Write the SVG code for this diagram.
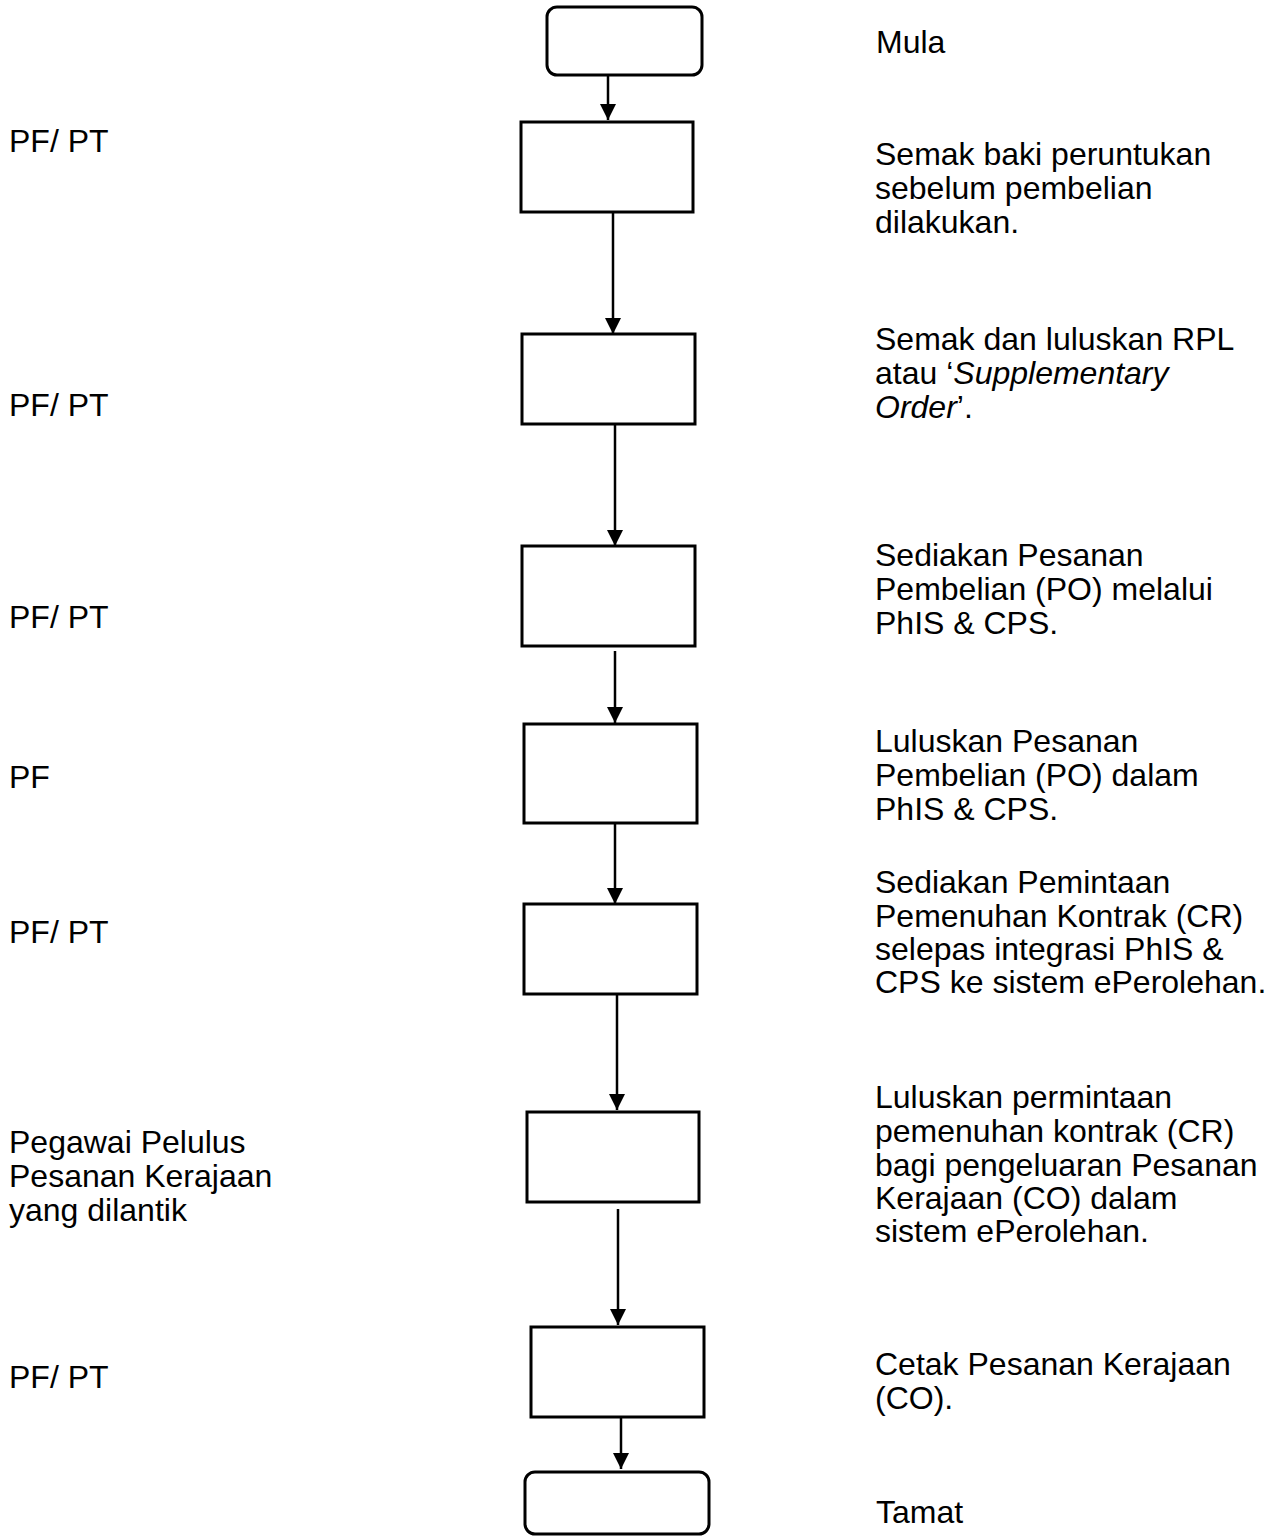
<svg xmlns="http://www.w3.org/2000/svg" width="1275" height="1537" viewBox="0 0 1275 1537">
  <style>
    .box { fill: #ffffff; stroke: #000000; stroke-width: 3; }
    .link { fill: none; stroke: #000000; stroke-width: 2.5; }
    text { font-family: "Liberation Sans", Arial, sans-serif; font-size: 32px; fill: #000000; }
    .it { font-style: italic; }
  </style>
  <defs>
    <marker id="arrow" markerUnits="userSpaceOnUse" markerWidth="18" markerHeight="18" refX="16" refY="8" orient="auto">
      <path d="M0,0 L16,8 L0,16 Z" fill="#000000"/>
    </marker>
  </defs>
  <rect width="1275" height="1537" fill="#ffffff"/>

  <!-- connectors -->
  <g id="connectors">
    <line class="link" x1="608" y1="76" x2="608" y2="120" marker-end="url(#arrow)"/>
    <line class="link" x1="613" y1="212" x2="613" y2="334" marker-end="url(#arrow)"/>
    <line class="link" x1="615" y1="424" x2="615" y2="546" marker-end="url(#arrow)"/>
    <line class="link" x1="615" y1="651" x2="615" y2="723" marker-end="url(#arrow)"/>
    <line class="link" x1="615" y1="823" x2="615" y2="904" marker-end="url(#arrow)"/>
    <line class="link" x1="617" y1="994" x2="617" y2="1110" marker-end="url(#arrow)"/>
    <line class="link" x1="618" y1="1209" x2="618" y2="1325" marker-end="url(#arrow)"/>
    <line class="link" x1="621" y1="1415" x2="621" y2="1469" marker-end="url(#arrow)"/>
  </g>

  <!-- flow nodes -->
  <g id="start">
    <rect class="box" x="547" y="7" width="155" height="68" rx="10"/>
    <text x="876" y="53">Mula</text>
  </g>
  <g id="step1">
    <rect class="box" x="521" y="122" width="172" height="90"/>
    <text x="9" y="152">PF/ PT</text>
    <text x="875" y="165">Semak baki peruntukan</text>
    <text x="875" y="199">sebelum pembelian</text>
    <text x="875" y="233">dilakukan.</text>
  </g>
  <g id="step2">
    <rect class="box" x="522" y="334" width="173" height="90"/>
    <text x="9" y="416">PF/ PT</text>
    <text x="875" y="350">Semak dan luluskan RPL</text>
    <text x="875" y="384">atau ‘<tspan class="it">Supplementary</tspan></text>
    <text x="875" y="418"><tspan class="it">Order</tspan>’.</text>
  </g>
  <g id="step3">
    <rect class="box" x="522" y="546" width="173" height="100"/>
    <text x="9" y="628">PF/ PT</text>
    <text x="875" y="566">Sediakan Pesanan</text>
    <text x="875" y="600">Pembelian (PO) melalui</text>
    <text x="875" y="634">PhIS &amp; CPS.</text>
  </g>
  <g id="step4">
    <rect class="box" x="524" y="724" width="173" height="99"/>
    <text x="9" y="788">PF</text>
    <text x="875" y="752">Luluskan Pesanan</text>
    <text x="875" y="786">Pembelian (PO) dalam</text>
    <text x="875" y="820">PhIS &amp; CPS.</text>
  </g>
  <g id="step5">
    <rect class="box" x="524" y="904" width="173" height="90"/>
    <text x="9" y="943">PF/ PT</text>
    <text x="875" y="893">Sediakan Pemintaan</text>
    <text x="875" y="927">Pemenuhan Kontrak (CR)</text>
    <text x="875" y="960">selepas integrasi PhIS &amp;</text>
    <text x="875" y="993">CPS ke sistem ePerolehan.</text>
  </g>
  <g id="step6">
    <rect class="box" x="527" y="1112" width="172" height="90"/>
    <text x="9" y="1153">Pegawai Pelulus</text>
    <text x="9" y="1187">Pesanan Kerajaan</text>
    <text x="9" y="1221">yang dilantik</text>
    <text x="875" y="1108">Luluskan permintaan</text>
    <text x="875" y="1142">pemenuhan kontrak (CR)</text>
    <text x="875" y="1176">bagi pengeluaran Pesanan</text>
    <text x="875" y="1209">Kerajaan (CO) dalam</text>
    <text x="875" y="1242">sistem ePerolehan.</text>
  </g>
  <g id="step7">
    <rect class="box" x="531" y="1327" width="173" height="90"/>
    <text x="9" y="1388">PF/ PT</text>
    <text x="875" y="1375">Cetak Pesanan Kerajaan</text>
    <text x="875" y="1409">(CO).</text>
  </g>
  <g id="end">
    <rect class="box" x="525" y="1472" width="184" height="62" rx="10"/>
    <text x="876" y="1523">Tamat</text>
  </g>
</svg>
